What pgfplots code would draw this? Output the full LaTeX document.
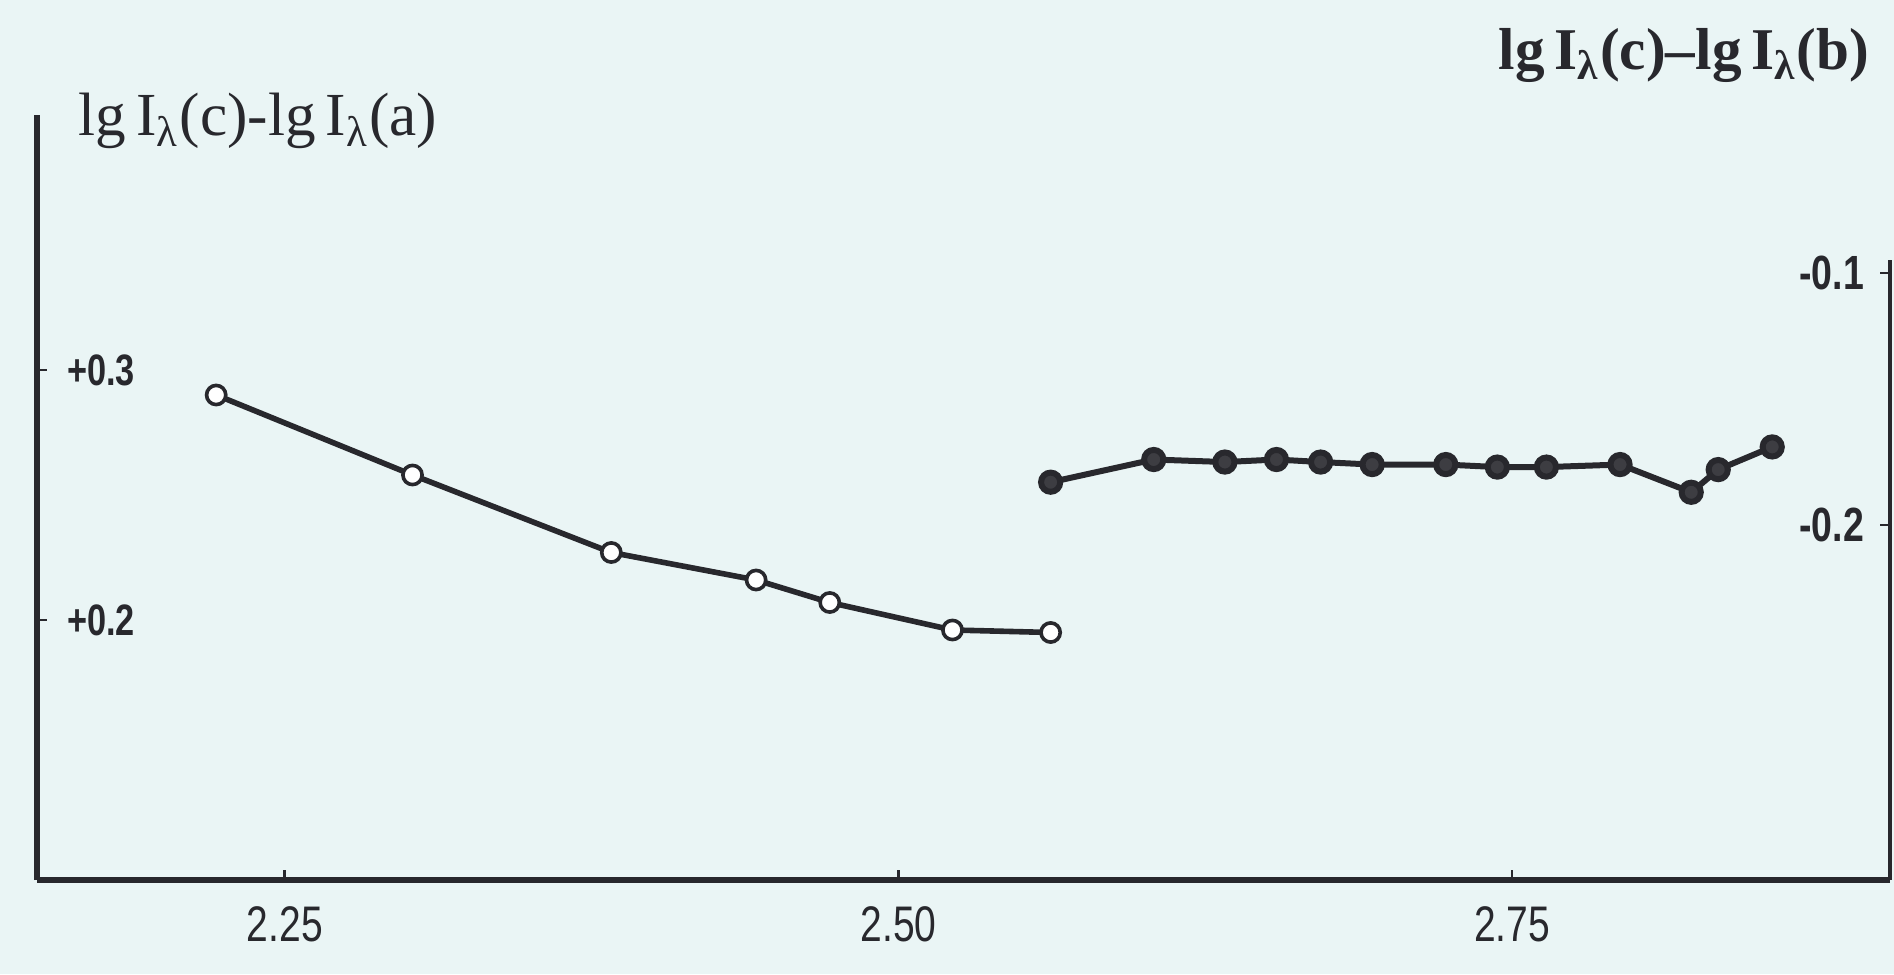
\documentclass[border=0pt]{standalone}
\usepackage{pgfplots}
\pgfplotsset{compat=1.18}
\usepackage{pgfplotstable}
\usepackage{fontspec}
\setmainfont{Liberation Serif}
\newfontfamily\condfont[FakeStretch=0.78]{Liberation Sans}
\definecolor{bgc}{RGB}{234,245,245}
\definecolor{ink}{RGB}{40,40,45}
\pgfplotstableread{
x y
2.222 0.290
2.302 0.258
2.383 0.227
2.442 0.216
2.472 0.207
2.522 0.196
2.562 0.195
}\opendata
\pgfplotstableread{
x y
2.562 -0.183
2.604 -0.174
2.633 -0.175
2.654 -0.174
2.672 -0.175
2.693 -0.176
2.723 -0.176
2.744 -0.177
2.764 -0.177
2.794 -0.176
2.823 -0.187
2.834 -0.178
2.856 -0.169
}\filleddata
\begin{document}
\begin{tikzpicture}
\fill[bgc, use as bounding box] (0,0) rectangle (473.5pt,243.5pt);
\begin{axis}[
 at={(9.25pt,23.5pt)}, anchor=south west, scale only axis,
 width=463.25pt, height=191.25pt,
 xmin=2.149, xmax=2.904, ymin=0.096, ymax=0.402,
 axis x line*=bottom, axis y line*=left,
 axis line style={-, ink, line width=1.3pt},
 xtick={2.25,2.5,2.75}, xticklabels={2.25,2.50,2.75},
 ytick={0.2,0.3}, yticklabels={+0.2,+0.3},
 tick align=inside, major tick length=2.5pt,
 tick style={ink, line width=0.7pt},
 x tick label style={font=\condfont\fontsize{12.5}{14}\selectfont, text=ink, yshift=-3pt},
 y tick label style={font=\condfont\bfseries\fontsize{11}{12}\selectfont, text=ink, anchor=west, xshift=4pt},
 clip=false,
]
\addplot[ink, line width=1.4pt, mark=*, mark size=2.4pt, mark options={fill=white, draw=ink, line width=0.9pt}] table {\opendata};
\end{axis}
\begin{axis}[
 at={(9.25pt,23.5pt)}, anchor=south west, scale only axis,
 width=463.25pt, height=155pt,
 xmin=2.149, xmax=2.904, ymin=-0.3409, ymax=-0.0948,
 axis x line=none, axis y line*=right,
 axis line style={-, ink, line width=1.1pt},
 ytick={-0.2,-0.1}, yticklabels={-0.2,-0.1},
 tick align=inside, major tick length=2.5pt,
 tick style={ink, line width=0.7pt},
 y tick label style={font=\condfont\bfseries\fontsize{12}{13}\selectfont, text=ink, anchor=east, xshift=-3pt},
 clip=false,
]
\addplot[ink, line width=1.5pt, mark=*, mark size=2.4pt, mark options={fill=ink!90, draw=ink}] table {\filleddata};
\end{axis}
\node[anchor=base west, inner sep=0, text=ink, font=\fontsize{15.3}{17}\selectfont] at (19.5pt,209.5pt) {lg\,I\textsubscript{λ}(c)-lg\,I\textsubscript{λ}(a)};
\node[anchor=base east, inner sep=0, text=ink, font=\bfseries\fontsize{14.8}{16}\selectfont] at (467.5pt,226pt) {lg\,I\textsubscript{λ}(c)--lg\,I\textsubscript{λ}(b)};
\end{tikzpicture}
\end{document}
